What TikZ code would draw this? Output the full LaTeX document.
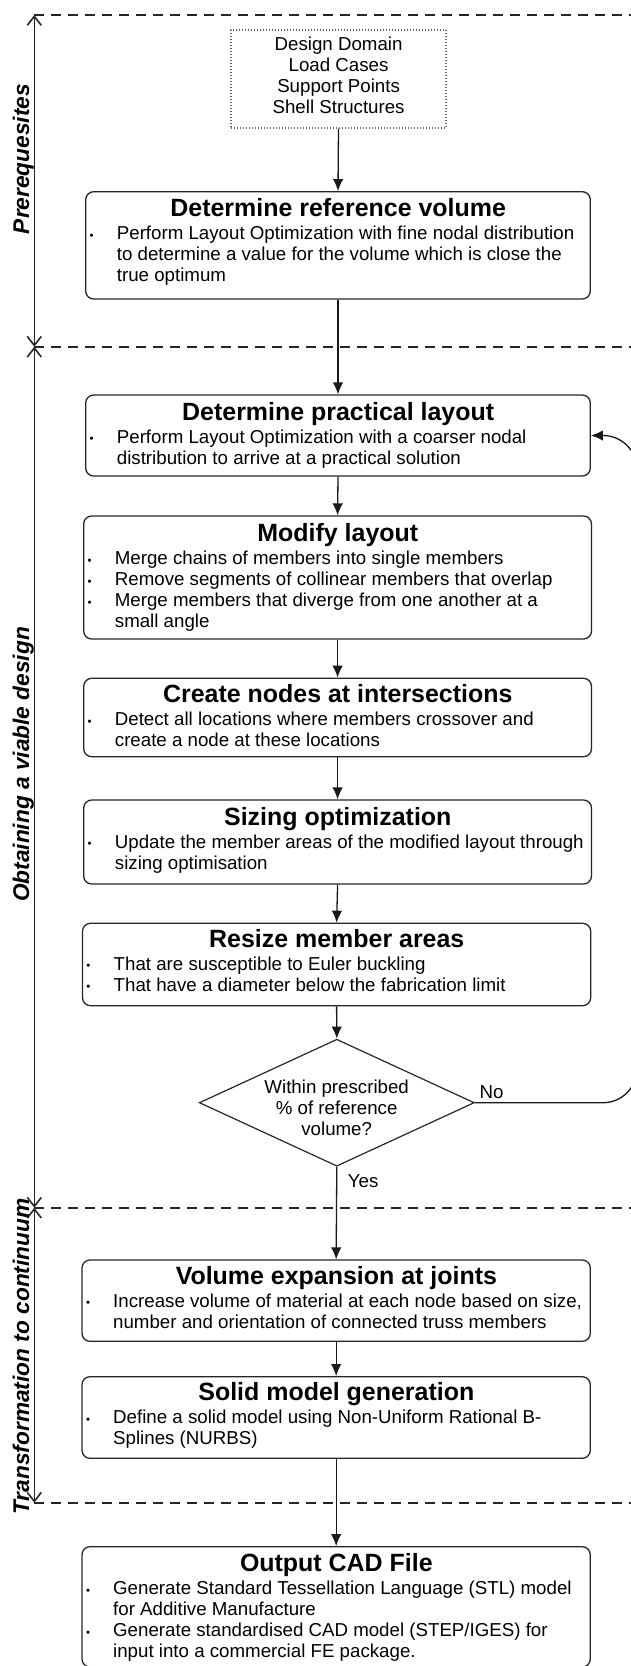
\documentclass[tikz,border=0pt]{standalone}
\usepackage{fontspec}
\setmainfont{Liberation Sans}
\usetikzlibrary{arrows.meta,shapes.geometric}

% small list bullet
\newcommand{\smallbullet}{\hspace*{-1.2pt}\raisebox{0.6pt}{\fontsize{11.5}{11.5}\selectfont\textbullet}}
% one bulleted entry with hanging indent
\newcommand{\itm}[1]{\par\noindent\hangindent=26pt\hangafter=1\makebox[26pt][l]{\smallbullet}#1}
% box content: #1 width for centring the title, #2 title, #3 list
\newcommand{\boxcontent}[3]{\parbox[t]{600pt}{\noindent\makebox[#1][c]{\fontsize{24.95}{28}\selectfont\bfseries #2}\par\vspace{2.3pt}\fontsize{18.7}{20.9}\selectfont #3}}

\begin{document}
\begin{tikzpicture}[x=1pt,y=-1pt,
  box/.style={draw=black!85, line width=1.3pt, rounded corners=8pt, inner sep=0pt},
  flow/.style={-{Latex[length=12pt,width=10.5pt]}, line width=1.3pt, draw=black!90},
  span/.style={{Straight Barb[length=9pt,width=14pt]}-{Straight Barb[length=9pt,width=14pt]}, line width=1.6pt, draw=black!85},
  sep/.style={line width=2pt, dash pattern=on 10pt off 7pt, draw=black!85},
  phase/.style={rotate=90, anchor=base, inner sep=0pt, font=\fontsize{22.7}{26}\selectfont\bfseries\itshape},
  txt/.style={anchor=base west, inner sep=0pt},
  lbl/.style={anchor=base west, inner sep=0pt, font=\fontsize{18.7}{21}\selectfont}]

\useasboundingbox (0,0) rectangle (631,1666);

% phase separators
\coordinate (d0) at (34.3,15);
\coordinate (d1) at (34.3,346.7);
\coordinate (d2) at (34.3,1207.7);
\coordinate (d3) at (34.3,1502.7);
\coordinate (e0) at (640,15);
\coordinate (e1) at (640,346.7);
\coordinate (e2) at (640,1207.7);
\coordinate (e3) at (640,1502.7);
\draw[sep] (d0) -- (e0);
\draw[sep] (d1) -- (e1);
\draw[sep] (d2) -- (e2);
\draw[sep] (d3) -- (e3);

% phase spans
\draw[span] (d0) -- (d1);
\draw[span] (d1) -- (d2);
\draw[span] (d2) -- (d3);
\node[phase] (p1) at (29,159) {Prerequesites};
\node[phase] (p2) at (29,764.5) {Obtaining a viable design};
\node[phase] (p3) at (29,1356.5) {Transformation to continuum};

% inputs
\node[draw=black!60, dash pattern=on 1pt off 2pt, line width=1.1pt, minimum width=215pt, minimum height=98pt, inner sep=0pt] (in) at (338.5,79) {};
\node[anchor=base, inner sep=0pt] (intext) at (338.6,50) {\parbox[t]{200pt}{\centering\fontsize{18.7}{21.1}\selectfont Design Domain\\Load Cases\\Support Points\\Shell Structures}};

% process boxes
\node[box, minimum width=504.6pt, minimum height=107.3pt] (b1) at (338,245.35) {};
\node[txt] (t1) at (90.7,216.7) {\boxcontent{494.6pt}{Determine reference volume}{%
  \itm{Perform Layout Optimization with fine nodal distribution\\to determine a value for the volume which is close the\\true optimum}}};

\node[box, minimum width=504.6pt, minimum height=81pt] (b2) at (338,435.5) {};
\node[txt] (t2) at (90.7,420) {\boxcontent{494.6pt}{Determine practical layout}{%
  \itm{Perform Layout Optimization with a coarser nodal\\distribution to arrive at a practical solution}}};

\node[box, minimum width=507.8pt, minimum height=123pt] (b3) at (337.6,577.5) {};
\node[txt] (t3) at (88.7,541.7) {\boxcontent{497.8pt}{Modify layout}{%
  \itm{Merge chains of members into single members}
  \itm{Remove segments of collinear members that overlap}
  \itm{Merge members that diverge from one another at a\\small angle}}};

\node[box, minimum width=507.8pt, minimum height=78.4pt] (b4) at (337.6,717.5) {};
\node[txt] (t4) at (88.7,702.7) {\boxcontent{497.8pt}{Create nodes at intersections}{%
  \itm{Detect all locations where members crossover and\\create a node at these locations}}};

\node[box, minimum width=507.8pt, minimum height=84pt] (b5) at (337.6,842) {};
\node[txt] (t5) at (88.7,825) {\boxcontent{497.8pt}{Sizing optimization}{%
  \itm{Update the member areas of the modified layout through\\sizing optimisation}}};

\node[box, minimum width=508.2pt, minimum height=82.4pt] (b6) at (336.6,964.5) {};
\node[txt] (t6) at (87.5,947.3) {\boxcontent{498.2pt}{Resize member areas}{%
  \itm{That are susceptible to Euler buckling}
  \itm{That have a diameter below the fabrication limit}}};

% decision
\node[diamond, draw=black!85, line width=1.2pt, minimum width=275pt, minimum height=127pt, inner sep=0pt] (dm) at (336.8,1102.7) {};
\node[anchor=base, inner sep=0pt] (dmtext) at (336.7,1093.3) {\parbox[t]{200pt}{\centering\fontsize{18.7}{21.2}\selectfont Within prescribed\\\% of reference\\volume?}};
\node[lbl] (no) at (479.3,1098.3) {No};
\node[lbl] (yes) at (347.7,1187.7) {Yes};

\node[box, minimum width=508.3pt, minimum height=81.3pt] (b7) at (336.15,1300.65) {};
\node[txt] (t7) at (87,1284) {\boxcontent{498.3pt}{Volume expansion at joints}{%
  \itm{Increase volume of material at each node based on size,\\number and orientation of connected truss members}}};

\node[box, minimum width=508.3pt, minimum height=81.6pt] (b8) at (336.15,1417.5) {};
\node[txt] (t8) at (87,1400.7) {\boxcontent{498.3pt}{Solid model generation}{%
  \itm{Define a solid model using Non-Uniform Rational B-\\Splines (NURBS)}}};

\node[box, minimum width=508.3pt, minimum height=120.3pt] (b9) at (336.15,1606.85) {};
\node[txt] (t9) at (87,1571.7) {\boxcontent{498.3pt}{Output CAD File}{%
  \itm{Generate Standard Tessellation Language (STL) model\\for Additive Manufacture}
  \itm{Generate standardised CAD model (STEP/IGES) for\\input into a commercial FE package.}}};

% connectors
\draw[flow] (in.south) -- (b1.north);
\draw[flow] (b1.south) -- (b2.north);
\draw[flow] (b2.south) -- (b3.north);
\draw[flow] (b3.south) -- (b4.north);
\draw[flow] (b4.south) -- (b5.north);
\draw[flow] (b5.south) -- (b6.north);
\draw[flow] (b6.south) -- (dm.north);
\draw[flow] (dm.south) -- (b7.north);
\draw[flow] (b7.south) -- (b8.north);
\draw[flow] (b8.south) -- (b9.north);

% loop back when outside the tolerance
\coordinate (fbl) at (637,1102.7);
\coordinate (fbu) at (637,435.5);
\draw[flow, rounded corners=34pt] (dm.east) -- (fbl) -- (fbu) -- (b2.east);
\end{tikzpicture}
\end{document}
